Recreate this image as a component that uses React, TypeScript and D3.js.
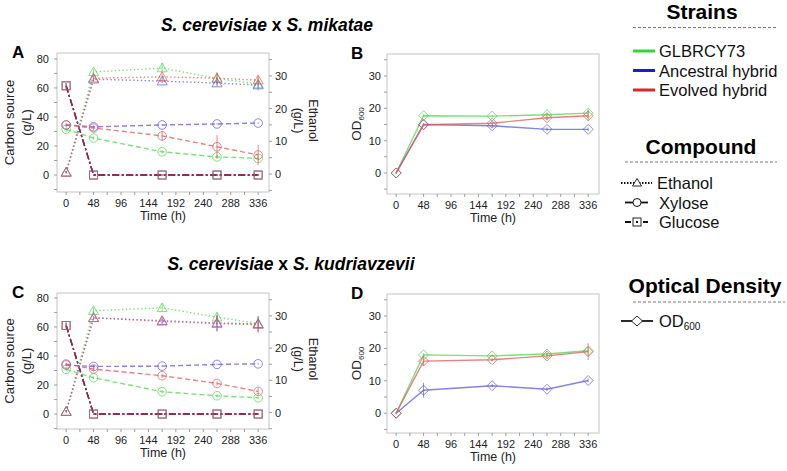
import React from 'react';
import * as d3 from 'd3';

// ---------- data ----------
const TIMES = [0, 48, 168, 264, 336];
const X_TICK_LABELS = [0, 48, 96, 144, 192, 240, 288, 336];
const CARBON_TICKS = [0, 20, 40, 60, 80];
const ETHANOL_TICKS = [0, 10, 20, 30];
const OD_TICKS = [0, 10, 20, 30];
const STRAINS = ['GLBRCY73', 'Ancestral hybrid', 'Evolved hybrid'];
const COMPOUNDS = ['Ethanol', 'Xylose', 'Glucose'];

// S. cerevisiae x S. mikatae (panel A) – g/L
const ethanolA_green = [0.5, 31.2, 32.4, 29.2, 27.5];
const ethanolA_blue = [0.5, 29.0, 28.4, 27.8, 27.2];
const ethanolA_red = [0.5, 29.3, 29.7, 29.3, 28.7];
const xyloseA_green = [31.5, 25.5, 16.0, 12.5, 11.5];
const xyloseA_blue = [34.5, 33.2, 34.5, 35.2, 35.8];
const xyloseA_red = [34.5, 32.4, 27.0, 19.5, 13.8];
const glucoseA_green = [61.5, 0, 0, 0, 0];
const glucoseA_blue = [61.5, 0, 0, 0, 0];
const glucoseA_red = [61.5, 0, 0, 0, 0];
const ethanolA_sd_green = [0.3, 1.0, 1.6, 2.0, 2.0];
const ethanolA_sd_blue = [0.3, 0.5, 0.6, 1.0, 0.8];
const ethanolA_sd_red = [0.3, 0.8, 0.8, 1.5, 1.5];
const xyloseA_sd_green = [2.0, 1.0, 1.0, 1.5, 1.5];
const xyloseA_sd_blue = [1.0, 1.0, 0.5, 0.5, 0.5];
const xyloseA_sd_red = [1.0, 1.5, 3.5, 8.0, 7.0];
const glucoseA_sd = [2.0, 0.5, 0.5, 0.5, 0.5];

// S. cerevisiae x S. kudriavzevii (panel C) – g/L
const ethanolC_green = [0.3, 31.6, 32.5, 29.6, 27.6];
const ethanolC_blue = [0.3, 29.4, 28.5, 27.8, 27.5];
const ethanolC_red = [0.3, 29.4, 28.3, 27.6, 27.3];
const xyloseC_green = [30.8, 25.0, 15.4, 12.6, 11.2];
const xyloseC_blue = [33.8, 32.8, 33.0, 34.2, 34.6];
const xyloseC_red = [34.5, 31.0, 26.4, 21.1, 15.6];
const glucoseC_green = [61.0, 0, 0, 0, 0];
const glucoseC_blue = [61.0, 0, 0, 0, 0];
const glucoseC_red = [61.0, 0, 0, 0, 0];
const ethanolC_sd_green = [0.3, 1.0, 1.2, 1.5, 1.0];
const ethanolC_sd_blue = [0.3, 0.5, 0.8, 2.5, 2.5];
const ethanolC_sd_red = [0.3, 0.5, 0.8, 2.5, 2.5];
const xyloseC_sd_green = [1.5, 1.0, 1.0, 1.0, 1.0];
const xyloseC_sd_blue = [1.0, 1.0, 0.5, 0.5, 0.5];
const xyloseC_sd_red = [1.0, 1.5, 1.5, 1.5, 2.5];
const glucoseC_sd = [2.0, 0.5, 0.5, 0.5, 0.5];

// OD600 (panels B and D)
const odB_green = [0, 17.7, 17.6, 18.0, 18.5];
const odB_blue = [0, 15.0, 14.6, 13.5, 13.5];
const odB_red = [0, 14.9, 15.4, 17.1, 17.7];
const odB_sd_green = [0.2, 0.4, 0.4, 0.6, 1.2];
const odB_sd_blue = [0.2, 0.4, 0.6, 0.6, 0.6];
const odB_sd_red = [0.2, 0.4, 0.4, 0.8, 1.5];
const odD_green = [0, 18.0, 17.7, 18.3, 19.3];
const odD_blue = [0, 7.1, 8.5, 7.4, 10.1];
const odD_red = [0, 16.1, 16.5, 17.7, 19.0];
const odD_sd_green = [0.2, 0.5, 0.4, 0.6, 0.8];
const odD_sd_blue = [0.2, 2.3, 0.5, 0.6, 0.6];
const odD_sd_red = [0.2, 1.5, 0.5, 0.8, 2.6];

// ---------- styles ----------
const FONT = '"Liberation Sans", Arial, Helvetica, sans-serif';
const PLOT_COLORS = ['#4fd64f', '#5a5ad8', '#e05858'];
const LEGEND_COLORS = ['#33d633', '#1c1cc8', '#d42a2a'];
const GLUCOSE_COLOR = '#8a2c52';
const BOX_COLOR = '#c4c4c4';
const LINE_OPACITY = 0.75;
const DASH = { Ethanol: '1.4,2.4', Xylose: '5,3', Glucose: '7,2.5,2,2.5' } as Record<string, string>;

type Series = { values: number[]; sd: number[]; color: string; axis: 'left' | 'right'; compound: string };

function marker(kind: string, x: number, y: number, color: string, key: string) {
  const common = { fill: 'none', stroke: color, strokeWidth: 0.9, strokeOpacity: 0.8 } as any;
  if (kind === 'Ethanol') {
    const s = 5;
    return <path key={key} d={`M${x},${y - s} L${x + s},${y + s * 0.75} L${x - s},${y + s * 0.75} Z`} {...common} />;
  }
  if (kind === 'Xylose') return <circle key={key} cx={x} cy={y} r={4.3} {...common} />;
  if (kind === 'Glucose') return <rect key={key} x={x - 4} y={y - 4} width={8} height={8} {...common} />;
  const s = 5;
  return <path key={key} d={`M${x},${y - s} L${x + s},${y} L${x},${y + s} L${x - s},${y} Z`} {...common} />;
}

function Frame({ box, x, letter, letterX }: any) {
  const xTicks = d3.range(0, 337, 24);
  return (
    <g>
      <rect x={box.x0} y={box.y0} width={box.x1 - box.x0} height={box.y1 - box.y0} fill="none" stroke={BOX_COLOR} strokeWidth={1} />
      {xTicks.map((t) => (
        <line key={'xt' + t} x1={x(t)} x2={x(t)} y1={box.y1} y2={box.y1 + 3} stroke="#888" strokeWidth={0.8} />
      ))}
      {X_TICK_LABELS.map((t) => (
        <text key={'xl' + t} x={x(t)} y={box.y1 + 15} textAnchor="middle" fontSize={11} fontFamily={FONT} fill="#222">
          {t}
        </text>
      ))}
      <text x={(box.x0 + box.x1) / 2} y={box.y1 + 28} textAnchor="middle" fontSize={12.5} fontFamily={FONT} fill="#222">
        Time (h)
      </text>
      <text x={letterX} y={box.y0 + 5} fontSize={17} fontWeight="bold" fontFamily={FONT} fill="#000">
        {letter}
      </text>
    </g>
  );
}

function CarbonPanel({ box, leftDomain, rightDomain, series, letter }: any) {
  const x = d3.scaleLinear().domain([-16, 355]).range([box.x0, box.x1]);
  const yL = d3.scaleLinear().domain(leftDomain).range([box.y1, box.y0]);
  const yR = d3.scaleLinear().domain(rightDomain).range([box.y1, box.y0]);
  const leftMinor = d3.range(-10, 81, 10);
  const rightMinor = d3.range(-5, 36, 5);
  const midY = (box.y0 + box.y1) / 2;
  return (
    <g>
      <Frame box={box} x={x} letter={letter} letterX={box.x0 - 45} />
      {leftMinor.map((t) => (
        <line key={'lt' + t} x1={box.x0 - 3} x2={box.x0} y1={yL(t)} y2={yL(t)} stroke="#888" strokeWidth={0.8} />
      ))}
      {CARBON_TICKS.map((t) => (
        <text key={'ll' + t} x={box.x0 - 8} y={yL(t) + 4} textAnchor="end" fontSize={11} fontFamily={FONT} fill="#222">
          {t}
        </text>
      ))}
      {rightMinor.map((t) => (
        <line key={'rt' + t} x1={box.x1} x2={box.x1 + 3} y1={yR(t)} y2={yR(t)} stroke="#888" strokeWidth={0.8} />
      ))}
      {ETHANOL_TICKS.map((t) => (
        <text key={'rl' + t} x={box.x1 + 6} y={yR(t) + 4} textAnchor="start" fontSize={11} fontFamily={FONT} fill="#222">
          {t}
        </text>
      ))}
      <g transform={`translate(${box.x0 - 43},${midY}) rotate(-90)`}>
        <text x={0} y={0} textAnchor="middle" fontSize={13} fontFamily={FONT} fill="#222">Carbon source</text>
        <text x={0} y={17} textAnchor="middle" fontSize={13} fontFamily={FONT} fill="#222">(g/L)</text>
      </g>
      <g transform={`translate(${box.x1 + 39.5},${midY - 2}) rotate(90)`}>
        <text x={0} y={0} textAnchor="middle" fontSize={12.5} fontFamily={FONT} fill="#222">Ethanol</text>
        <text x={0} y={15} textAnchor="middle" fontSize={12.5} fontFamily={FONT} fill="#222">(g/L)</text>
      </g>
      <g>
        {series.map((s: Series, i: number) => {
          const y = s.axis === 'left' ? yL : yR;
          const line = d3.line<number>().x((_, j) => x(TIMES[j])).y((v) => y(v));
          const isGlu = s.compound === 'Glucose';
          return (
            <g key={'s' + i}>
              <path d={line(s.values) || ''} fill="none" stroke={isGlu ? GLUCOSE_COLOR : s.color}
                strokeOpacity={isGlu ? 1 : LINE_OPACITY} strokeWidth={1.4} strokeDasharray={DASH[s.compound]} />
              {s.values.map((v, j) => (
                <line key={'e' + j} x1={x(TIMES[j])} x2={x(TIMES[j])} y1={y(v - s.sd[j])} y2={y(v + s.sd[j])}
                  stroke={s.color} strokeOpacity={0.8} strokeWidth={0.9} />
              ))}
              {s.values.map((v, j) => marker(s.compound, x(TIMES[j]), y(v), s.color, 'm' + j))}
            </g>
          );
        })}
      </g>
    </g>
  );
}

function ODPanel({ box, domain, series, letter }: any) {
  const x = d3.scaleLinear().domain([-16, 355]).range([box.x0, box.x1]);
  const y = d3.scaleLinear().domain(domain).range([box.y1, box.y0]);
  const minor = d3.range(-5, 36, 5);
  const midY = (box.y0 + box.y1) / 2;
  return (
    <g>
      <Frame box={box} x={x} letter={letter} letterX={box.x0 - 36} />
      {minor.map((t) => (
        <line key={'lt' + t} x1={box.x0 - 3} x2={box.x0} y1={y(t)} y2={y(t)} stroke="#888" strokeWidth={0.8} />
      ))}
      {OD_TICKS.map((t) => (
        <text key={'ll' + t} x={box.x0 - 6} y={y(t) + 4} textAnchor="end" fontSize={11} fontFamily={FONT} fill="#222">
          {t}
        </text>
      ))}
      <g transform={`translate(${box.x0 - 26},${midY}) rotate(-90)`}>
        <text x={0} y={0} textAnchor="middle" fontSize={13.5} fontFamily={FONT} fill="#222">
          OD<tspan fontSize={8} dy={3}>600</tspan>
        </text>
      </g>
      <g>
        {series.map((s: any, i: number) => {
          const line = d3.line<number>().x((_, j) => x(TIMES[j])).y((v) => y(v));
          return (
            <g key={'s' + i}>
              <path d={line(s.values) || ''} fill="none" stroke={s.color} strokeOpacity={LINE_OPACITY} strokeWidth={1.4} />
              {s.values.map((v: number, j: number) => (
                <line key={'e' + j} x1={x(TIMES[j])} x2={x(TIMES[j])} y1={y(v - s.sd[j])} y2={y(v + s.sd[j])}
                  stroke={s.color} strokeOpacity={0.8} strokeWidth={0.9} />
              ))}
              {s.values.map((v: number, j: number) => marker('OD', x(TIMES[j]), y(v), s.color, 'm' + j))}
            </g>
          );
        })}
      </g>
    </g>
  );
}

function Title({ x, y, second }: any) {
  return (
    <text x={x} y={y} textAnchor="middle" fontSize={17.5} fontWeight="bold" fontFamily={FONT} fill="#000">
      <tspan fontStyle="italic">S. cerevisiae</tspan>
      <tspan> x </tspan>
      <tspan fontStyle="italic">{second}</tspan>
    </text>
  );
}

function Legend() {
  const lx = 621;
  return (
    <g fontFamily={FONT}>
      <text x={702} y={19} textAnchor="middle" fontSize={21} fontWeight="bold">Strains</text>
      <line x1={633} x2={777} y1={27.5} y2={27.5} stroke="#555" strokeWidth={0.8} strokeDasharray="3,2" />
      {STRAINS.map((s, i) => (
        <g key={s}>
          <line x1={633} x2={655} y1={51 + i * 19.5} y2={51 + i * 19.5} stroke={LEGEND_COLORS[i]} strokeWidth={3} />
          <text x={659} y={57 + i * 19.5} fontSize={16.5} fill="#111">{s}</text>
        </g>
      ))}
      <text x={701} y={154} textAnchor="middle" fontSize={21} fontWeight="bold">Compound</text>
      <line x1={625} x2={777} y1={162} y2={162} stroke="#555" strokeWidth={0.8} strokeDasharray="3,2" />
      {COMPOUNDS.map((c, i) => {
        const yy = 183 + i * 19.5;
        return (
          <g key={c}>
            <line x1={c === 'Ethanol' ? lx : lx + 4} x2={c === 'Ethanol' ? lx + 31 : lx + 27} y1={yy} y2={yy} stroke="#111" strokeWidth={1.8}
              strokeDasharray={c === 'Ethanol' ? '1.5,1.5' : c === 'Glucose' ? '6,3' : undefined} />
            {c === 'Ethanol' && <path d={`M${lx + 16},${yy - 4.5} L${lx + 20.5},${yy + 3} L${lx + 11.5},${yy + 3} Z`} fill="#fff" stroke="#111" strokeWidth={0.9} />}
            {c === 'Xylose' && <circle cx={lx + 16} cy={yy} r={4} fill="#fff" stroke="#111" strokeWidth={1} />}
            {c === 'Glucose' && (
              <g>
                <rect x={lx + 12} y={yy - 4} width={8} height={8} fill="#fff" stroke="#111" strokeWidth={0.9} />
                <rect x={lx + 15} y={yy - 1} width={2} height={2} fill="#111" />
              </g>
            )}
            <text x={c === 'Ethanol' ? 657 : 659} y={yy + 6} fontSize={16.5} fill="#111">{c}</text>
          </g>
        );
      })}
      <text x={705} y={293} textAnchor="middle" fontSize={21} fontWeight="bold">Optical Density</text>
      <line x1={633} x2={785} y1={302} y2={302} stroke="#555" strokeWidth={0.8} strokeDasharray="3,2" />
      <line x1={lx} x2={lx + 32} y1={321} y2={321} stroke="#111" strokeWidth={1.8} />
      <path d={`M${lx + 16},${316} L${lx + 21.5},${321} L${lx + 16},${326} L${lx + 10.5},${321} Z`} fill="#fff" stroke="#111" strokeWidth={0.9} />
      <text x={659} y={327} fontSize={16.5} fill="#111">
        OD<tspan fontSize={10} dy={3}>600</tspan>
      </text>
    </g>
  );
}

function mk(vals: number[][], sds: number[][], compound: string, axis: 'left' | 'right'): Series[] {
  return vals.map((v, i) => ({ values: v, sd: sds[i], color: PLOT_COLORS[i], axis, compound }));
}

export default function App() {
  const seriesA: Series[] = [
    ...mk([glucoseA_green, glucoseA_blue, glucoseA_red], [glucoseA_sd, glucoseA_sd, glucoseA_sd], 'Glucose', 'left'),
    ...mk([xyloseA_green, xyloseA_blue, xyloseA_red], [xyloseA_sd_green, xyloseA_sd_blue, xyloseA_sd_red], 'Xylose', 'left'),
    ...mk([ethanolA_green, ethanolA_blue, ethanolA_red], [ethanolA_sd_green, ethanolA_sd_blue, ethanolA_sd_red], 'Ethanol', 'right'),
  ];
  const seriesC: Series[] = [
    ...mk([glucoseC_green, glucoseC_blue, glucoseC_red], [glucoseC_sd, glucoseC_sd, glucoseC_sd], 'Glucose', 'left'),
    ...mk([xyloseC_green, xyloseC_blue, xyloseC_red], [xyloseC_sd_green, xyloseC_sd_blue, xyloseC_sd_red], 'Xylose', 'left'),
    ...mk([ethanolC_green, ethanolC_blue, ethanolC_red], [ethanolC_sd_green, ethanolC_sd_blue, ethanolC_sd_red], 'Ethanol', 'right'),
  ];
  const seriesB = [odB_green, odB_blue, odB_red].map((v, i) => ({ values: v, sd: [odB_sd_green, odB_sd_blue, odB_sd_red][i], color: PLOT_COLORS[i] }));
  const seriesD = [odD_green, odD_blue, odD_red].map((v, i) => ({ values: v, sd: [odD_sd_green, odD_sd_blue, odD_sd_red][i], color: PLOT_COLORS[i] }));

  return (
    <svg width={787} height={471} style={{ position: 'absolute', left: 0, top: 0, background: '#fff' }}>
      <rect width={787} height={471} fill="#fff" />
      <Title x={267} y={31} second="S. mikatae" />
      <Title x={291} y={270} second="S. kudriavzevii" />
      <CarbonPanel box={{ x0: 57, x1: 269, y0: 53, y1: 192 }} leftDomain={[-11.7, 84.1]} rightDomain={[-5.5, 37.0]} series={seriesA} letter="A" />
      <CarbonPanel box={{ x0: 57, x1: 269, y0: 293, y1: 429 }} leftDomain={[-10.3, 83.4]} rightDomain={[-5.1, 37.1]} series={seriesC} letter="C" />
      <ODPanel box={{ x0: 387, x1: 599, y0: 54, y1: 194 }} domain={[-6.5, 36.8]} series={seriesB} letter="B" />
      <ODPanel box={{ x0: 387, x1: 599, y0: 294, y1: 433 }} domain={[-6.1, 36.8]} series={seriesD} letter="D" />
      <Legend />
    </svg>
  );
}
